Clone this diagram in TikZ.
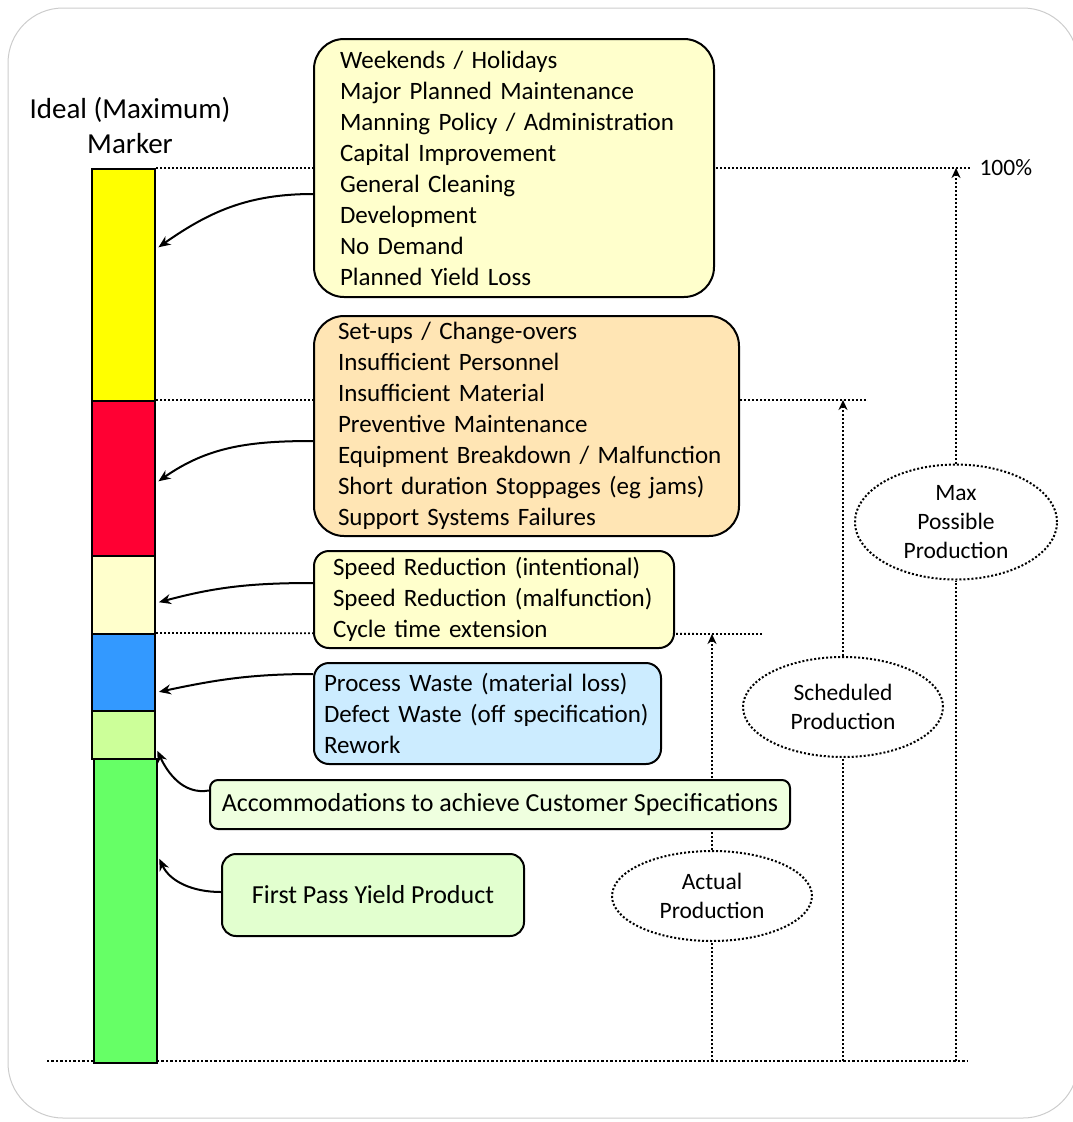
\documentclass[tikz,border=0pt]{standalone}
\usepackage{fontspec}
\setmainfont{Carlito}
\usetikzlibrary{shapes.geometric, arrows.meta, backgrounds}

\definecolor{segYellow}{HTML}{FFFF00}
\definecolor{segRed}{HTML}{FF0033}
\definecolor{segCream}{HTML}{FFFFCC}
\definecolor{segBlue}{HTML}{3399FF}
\definecolor{segLime}{HTML}{CCFF99}
\definecolor{segGreen}{HTML}{66FF66}
\definecolor{boxCream}{HTML}{FFFFCC}
\definecolor{boxPeach}{HTML}{FFE5B4}
\definecolor{boxSky}{HTML}{CCECFF}
\definecolor{boxMint}{HTML}{EFFFDF}
\definecolor{boxPale}{HTML}{E2FFCF}

\begin{document}
\begin{tikzpicture}[x=1pt, y=-1pt,
  seg/.style={draw=black, line width=2pt, anchor=north west,
    minimum width=63pt, inner sep=0pt},
  lossbox/.style={draw=black, line width=2pt, anchor=north west,
    align=left, inner sep=0pt, font=\fontsize{25}{31}\selectfont,
    execute at begin node={\leftskip=#1}},
  notebox/.style={draw=black, line width=2pt, align=center,
    inner sep=0pt, font=\fontsize{26}{31}\selectfont},
  prodlabel/.style={ellipse, draw=black, fill=white, line width=2pt,
    dash pattern=on 2pt off 2pt, inner sep=0pt, align=center,
    font=\fontsize{23.5}{29}\selectfont},
  conn/.style={-{Stealth[length=12pt,width=10pt]}, line width=2pt,
    shorten >=3pt},
  guide/.style={line width=1.8pt, dash pattern=on 1.8pt off 2.2pt},
  lift/.style={guide, -{Stealth[length=10pt,width=9pt]}}
]
  \useasboundingbox (0,0) rectangle (1072,1122);

  % stacked bar
  \foreach \segname/\segtop/\seght/\segcol in {
      segPlanned/168/232/segYellow, segDown/400/155/segRed,
      segSpeed/555/78/segCream, segQuality/633/77/segBlue,
      segSpec/710/48/segLime}{
    \node[seg, fill=\segcol, minimum height=\seght] (\segname) at (91,\segtop) {};
  }
  \node[seg, fill=segGreen, minimum height=304] (segGood) at (93,758) {};

  \node[align=center, font=\fontsize{29}{35}\selectfont] (title) at (130,125)
    {Ideal (Maximum)\\Marker};

  % loss boxes
  \node[lossbox=26pt, fill=boxCream, rounded corners=30pt,
    text width=400pt, minimum height=258pt] (plannedBox) at (313,38)
    {Weekends / Holidays\\Major Planned Maintenance\\
     Manning Policy / Administration\\Capital Improvement\\
     General Cleaning\\Development\\No Demand\\Planned Yield Loss};
  \node[lossbox=24pt, fill=boxPeach, rounded corners=30pt,
    text width=425pt, minimum height=220pt] (downBox) at (313,315)
    {Set-ups / Change-overs\\Insufficient Personnel\\Insufficient Material\\
     Preventive Maintenance\\Equipment Breakdown / Malfunction\\
     Short duration Stoppages (eg jams)\\Support Systems Failures};
  \node[lossbox=19pt, fill=boxCream, rounded corners=15pt,
    text width=360pt, minimum height=97pt] (speedBox) at (313,550)
    {Speed Reduction (intentional)\\Speed Reduction (malfunction)\\
     Cycle time extension};
  \node[lossbox=10pt, fill=boxSky, rounded corners=15pt,
    text width=347pt, minimum height=101pt] (qualityBox) at (313,662)
    {Process Waste (material loss)\\Defect Waste (off specification)\\Rework};
  \node[notebox, fill=boxMint, rounded corners=8pt, minimum width=580pt,
    minimum height=49pt] (specBox) at (500,804.5)
    {Accommodations to achieve Customer Specifications};
  \node[notebox, fill=boxPale, rounded corners=14pt, minimum width=302pt,
    minimum height=82pt] (fpyBox) at (373,895) {First Pass Yield Product};

  % production levels
  \node[prodlabel, minimum width=202pt, minimum height=115pt] (maxProd)
    at (956,522) {Max\\Possible\\Production};
  \node[prodlabel, minimum width=200pt, minimum height=100pt] (schedProd)
    at (843,707) {Scheduled\\Production};
  \node[prodlabel, minimum width=200pt, minimum height=90pt] (actProd)
    at (712,896) {Actual\\Production};

  \coordinate (lineMax) at (970,168);
  \coordinate (lineSched) at (866,400);
  \coordinate (lineAct) at (763,634);
  \coordinate (topMax) at (956,168);
  \coordinate (topSched) at (843,400);
  \coordinate (topAct) at (712,634);
  \coordinate (baseMax) at (956,1061);
  \coordinate (baseSched) at (843,1061);
  \coordinate (baseAct) at (712,1061);
  \coordinate (baseL) at (47,1061);
  \coordinate (baseR) at (968,1061);

  \node[anchor=west, font=\fontsize{23.5}{28}\selectfont] (pct) at (976,168) {100\%};

  % arrows to the bar
  \draw[conn] ([yshift=-26pt]plannedBox.west) to[out=180, in=35] ([yshift=36pt]segPlanned.east);
  \draw[conn] ([yshift=-15pt]downBox.west) to[out=180, in=35] ([yshift=-4.5pt]segDown.east);
  \draw[conn] ([yshift=16.5pt]speedBox.west) to[out=180, in=15] ([yshift=-8pt]segSpeed.east);
  \draw[conn] ([yshift=39.5pt]qualityBox.west) to[out=180, in=12] ([yshift=-20pt]segQuality.east);
  \draw[conn] ([yshift=14pt]specBox.west) to[out=190, in=-65] ([yshift=-13pt]segSpec.east);
  \draw[conn] ([yshift=3pt]fpyBox.west) to[out=180, in=-65] ([yshift=55pt]segGood.east);

  \begin{scope}[on background layer]
    \draw[black!20, line width=1pt, rounded corners=55pt] (8,8) rectangle (1078,1118);
    \draw[guide] (segPlanned.north east) -- (lineMax);
    \draw[guide] (segDown.north east) -- (lineSched);
    \draw[guide] (segQuality.north east) -- (lineAct);
    \draw[guide, line width=2.4pt, dash pattern=on 2.4pt off 2pt] (baseL) -- (baseR);
    \draw[guide] (baseMax) -- (maxProd.south);
    \draw[lift] (maxProd.north) -- (topMax);
    \draw[guide] (baseSched) -- (schedProd.south);
    \draw[lift] (schedProd.north) -- (topSched);
    \draw[guide] (baseAct) -- (actProd.south);
    \draw[lift] (actProd.north) -- (topAct);
  \end{scope}
\end{tikzpicture}
\end{document}
